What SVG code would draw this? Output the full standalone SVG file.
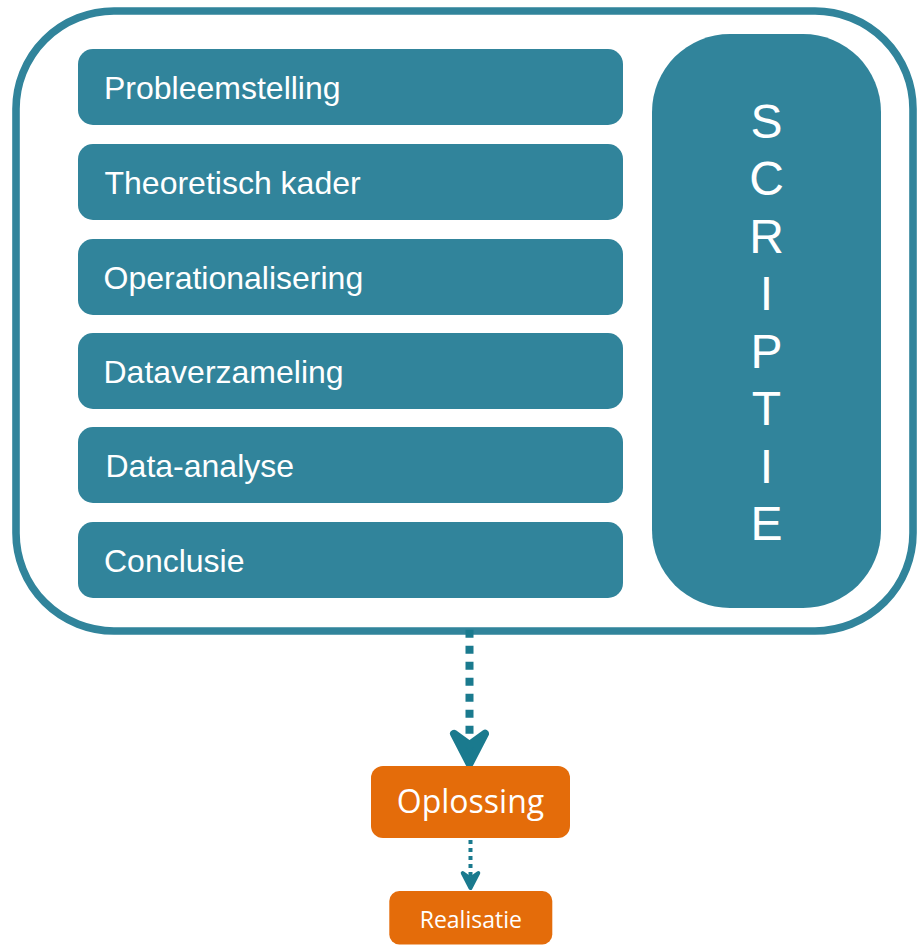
<svg xmlns="http://www.w3.org/2000/svg" width="917" height="945" viewBox="0 0 917 945">
  <style>
    .frame { fill: #ffffff; stroke: #31849B; stroke-width: 7.6; }
    .step { fill: #31849B; }
    .step-label { fill: #ffffff; font-family: "Liberation Sans", Arial, sans-serif; font-size: 32px; }
    .scriptie-label { fill: #ffffff; font-family: "Liberation Sans", Arial, sans-serif; font-size: 48px; text-anchor: middle; }
    .result { fill: #E46C0A; }
    .result-label { fill: #ffffff; font-family: "Open Sans", "Noto Sans", sans-serif; text-anchor: middle; }
    .link { fill: none; stroke: #1A7A8E; }
    .head { fill: #1A7A8E; stroke: #1A7A8E; stroke-width: 1; stroke-linejoin: round; }
  </style>
  <defs>
    <marker id="arrow" markerUnits="strokeWidth" orient="auto" refX="0" refY="0" markerWidth="6" markerHeight="6" overflow="visible">
      <path class="head" d="M-1,-1.94 L2.75,0 L-1,1.94 L0.4,0 Z"/>
    </marker>
  </defs>

  <g id="scriptie-frame">
    <rect class="frame" x="16" y="11" width="897" height="620" rx="98" ry="98"/>
  </g>

  <g id="step-probleemstelling">
    <rect class="step" x="78" y="49" width="545" height="76" rx="15"/>
    <text class="step-label" x="104" y="99">Probleemstelling</text>
  </g>
  <g id="step-theoretisch-kader">
    <rect class="step" x="78" y="144" width="545" height="76" rx="15"/>
    <text class="step-label" x="104.5" y="194">Theoretisch kader</text>
  </g>
  <g id="step-operationalisering">
    <rect class="step" x="78" y="239" width="545" height="76" rx="15"/>
    <text class="step-label" x="103.5" y="289">Operationalisering</text>
  </g>
  <g id="step-dataverzameling">
    <rect class="step" x="78" y="333" width="545" height="76" rx="15"/>
    <text class="step-label" x="103.5" y="383">Dataverzameling</text>
  </g>
  <g id="step-data-analyse">
    <rect class="step" x="78" y="427" width="545" height="76" rx="15"/>
    <text class="step-label" x="105.5" y="477">Data-analyse</text>
  </g>
  <g id="step-conclusie">
    <rect class="step" x="78" y="522" width="545" height="76" rx="15"/>
    <text class="step-label" x="104" y="572">Conclusie</text>
  </g>

  <g id="scriptie-bar">
    <rect class="step" x="652" y="34" width="229" height="574" rx="78" ry="78"/>
    <text class="scriptie-label" x="766.5" y="138">S</text>
    <text class="scriptie-label" x="766.5" y="195.4">C</text>
    <text class="scriptie-label" x="766.5" y="252.9">R</text>
    <text class="scriptie-label" x="766.5" y="310.3">I</text>
    <text class="scriptie-label" x="766.5" y="367.7">P</text>
    <text class="scriptie-label" x="766.5" y="425.1">T</text>
    <text class="scriptie-label" x="766.5" y="482.6">I</text>
    <text class="scriptie-label" x="766.5" y="540">E</text>
  </g>

  <g id="connectors">
    <line class="link" x1="469.5" y1="629.7" x2="469.5" y2="741.7" stroke-width="8" stroke-dasharray="8 8" marker-end="url(#arrow)"/>
    <line class="link" x1="470.5" y1="840" x2="470.5" y2="877" stroke-width="4" stroke-dasharray="4 4" marker-end="url(#arrow)"/>
  </g>

  <g id="oplossing">
    <rect class="result" x="371" y="766" width="199" height="72" rx="12"/>
    <text class="result-label" x="470.5" y="812.5" font-size="32">Oplossing</text>
  </g>
  <g id="realisatie">
    <rect class="result" x="389.3" y="891" width="163" height="53.5" rx="10"/>
    <text class="result-label" x="470.8" y="928.3" font-size="23">Realisatie</text>
  </g>
</svg>
